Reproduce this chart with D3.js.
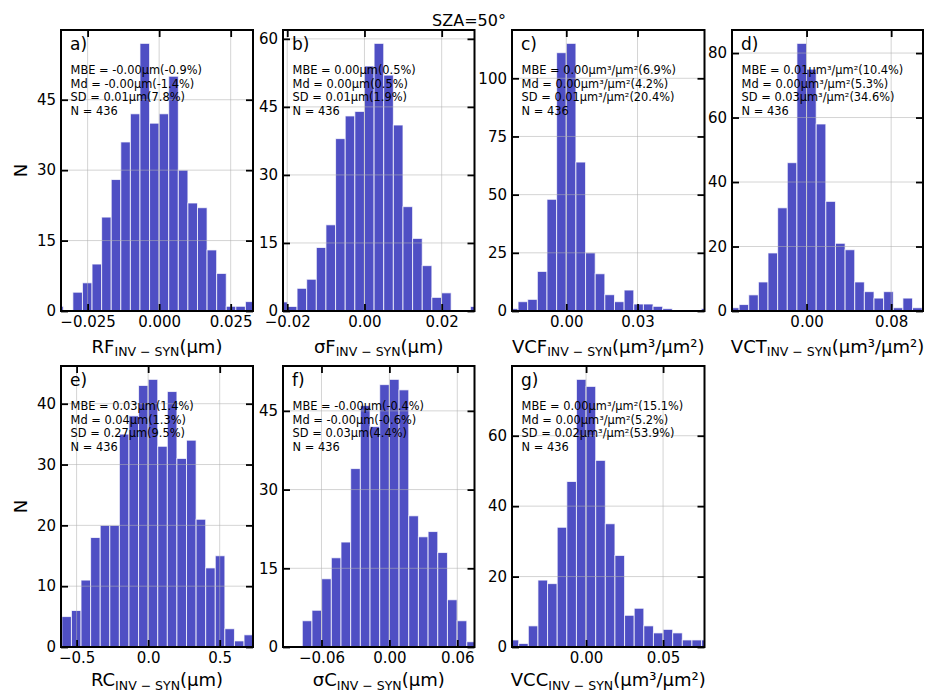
<!DOCTYPE html>
<html>
<head>
<meta charset="utf-8">
<script src="https://cdn.jsdelivr.net/npm/d3@7"></script>
<style>
  body { margin: 0; background: #fff; }
  text { font-family: "DejaVu Sans", sans-serif; fill: #000; }
</style>
</head>
<body>
<svg id="fig" width="928" height="694"></svg>
<script>
// Histograms of inversion minus synthetic differences, SZA = 50°
const panelTags = ["a)", "b)", "c)", "d)", "e)", "f)", "g)"];
const varNames  = ["RF", "σF", "VCF", "VCT", "RC", "σC", "VCC"];
const varUnits  = ["μm", "μm", "μm³/μm²", "μm³/μm²", "μm", "μm", "μm³/μm²"];

// bin width and index of the first bin (bin k spans [k*w, (k+1)*w])
const binWidths = [0.00335, 0.002494, 0.00406, 0.00911, 0.067, 0.00855, 0.00625];
const firstBin  = [-11, -9, -6, -8, -9, -9, -8];

const countsRF  = [1, 0, 4, 6, 10, 20, 28, 36, 42, 57, 40, 42, 50, 30, 23, 22, 13, 8, 1, 1, 2];
const countsSF  = [2, 1, 5, 7, 14, 19, 38, 43, 44, 54, 59, 52, 41, 23, 16, 10, 3, 4, 0, 0, 1];
const countsVCF = [1, 4, 5, 17, 48, 111, 115, 64, 25, 16, 7, 4, 9, 3, 3, 2, 1, 0, 0, 0, 1];
const countsVCT = [1, 2, 5, 9, 18, 32, 46, 83, 75, 58, 34, 21, 19, 9, 6, 4, 6, 1, 4, 1];
const countsRC  = [5, 6, 11, 18, 20, 20, 35, 38, 43, 44, 33, 42, 31, 34, 21, 13, 15, 3, 1, 2];
const countsSC  = [5, 7, 13, 17, 20, 34, 46, 42, 50, 51, 49, 25, 21, 22, 18, 9, 5, 1];
const countsVCC = [2, 1, 6, 19, 18, 34, 47, 76, 74, 53, 35, 26, 9, 11, 6, 4, 5, 4, 2, 2, 2];
const allCounts = [countsRF, countsSF, countsVCF, countsVCT, countsRC, countsSC, countsVCC];

const xLimits = [
  [-0.0343, 0.0328], [-0.0211, 0.0285], [-0.02285, 0.0582], [-0.0705, 0.1101],
  [-0.609, 0.7326], [-0.094, 0.0752], [-0.0481, 0.0769]
];
const xTickValues = [
  [-0.025, 0, 0.025], [-0.02, 0, 0.02], [0, 0.03], [0, 0.08],
  [-0.5, 0, 0.5], [-0.06, 0, 0.06], [0, 0.05]
];
const xTickFormats = [".3f", ".2f", ".2f", ".2f", ".1f", ".2f", ".2f"];
const yTickValues = [
  [0, 15, 30, 45], [0, 15, 30, 45, 60], [0, 25, 50, 75, 100], [0, 20, 40, 60, 80],
  [0, 10, 20, 30, 40], [0, 15, 30, 45], [0, 20, 40, 60]
];

const mbeText = ["-0.00μm(-0.9%)", "0.00μm(0.5%)", "0.00μm³/μm²(6.9%)", "0.01μm³/μm²(10.4%)",
                 "0.03μm(1.4%)", "-0.00μm(-0.4%)", "0.00μm³/μm²(15.1%)"];
const mdText  = ["-0.00μm(-1.4%)", "0.00μm(0.5%)", "0.00μm³/μm²(4.2%)", "0.00μm³/μm²(5.3%)",
                 "0.04μm(1.3%)", "-0.00μm(-0.6%)", "0.00μm³/μm²(5.2%)"];
const sdText  = ["0.01μm(7.8%)", "0.01μm(1.9%)", "0.01μm³/μm²(20.4%)", "0.03μm³/μm²(34.6%)",
                 "0.27μm(9.5%)", "0.03μm(4.4%)", "0.02μm³/μm²(53.9%)"];
const sampleSize = [436, 436, 436, 436, 436, 436, 436];

// grid layout of the axes frames
const colSpans = [[61, 253], [283, 474.5], [512, 704.5], [732, 923]];
const rowSpans = [[30, 311], [366, 647]];
const labelBaselines = [352.5, 686];
const cells = [[0, 0], [0, 1], [0, 2], [0, 3], [1, 0], [1, 1], [1, 2]];

const svg = d3.select("#fig");
const barFill = "#4f4fc4";
const tickLen = 7;

svg.append("text")
  .attr("x", 469).attr("y", 26)
  .attr("text-anchor", "middle")
  .style("font-size", "16px")
  .text("SZA=50°");

rowSpans.forEach(([t, b]) => {
  svg.append("text")
    .attr("transform", `translate(27,${(t + b) / 2}) rotate(-90)`)
    .attr("text-anchor", "middle")
    .style("font-size", "18px")
    .text("N");
});

allCounts.forEach((counts, i) => {
  const [r, c] = cells[i];
  const [x0, x1] = colSpans[c];
  const [y0, y1] = rowSpans[r];
  const w = binWidths[i];

  const x = d3.scaleLinear().domain(xLimits[i]).range([x0, x1]);
  const y = d3.scaleLinear().domain([0, d3.max(counts) * 1.05]).range([y1, y0]);

  const g = svg.append("g");
  const clipId = "clip" + i;
  g.append("clipPath").attr("id", clipId)
    .append("rect").attr("x", x0).attr("y", y0).attr("width", x1 - x0).attr("height", y1 - y0);

  const bins = counts.map((n, k) => ({ lo: (firstBin[i] + k) * w, hi: (firstBin[i] + k + 1) * w, n }));

  g.append("g").attr("clip-path", `url(#${clipId})`)
    .selectAll("rect").data(bins.filter(d => d.n > 0)).join("rect")
    .attr("x", d => x(d.lo))
    .attr("width", d => x(d.hi) - x(d.lo))
    .attr("y", d => y(d.n))
    .attr("height", d => y(0) - y(d.n))
    .attr("fill", barFill)
    .attr("stroke", "#ffffff")
    .attr("stroke-opacity", 0.75)
    .attr("stroke-width", 1);

  // grid lines drawn over the bars
  const grid = g.append("g").attr("stroke", "#b0b0b0").attr("stroke-opacity", 0.55).attr("stroke-width", 1);
  xTickValues[i].forEach(v => grid.append("line")
    .attr("x1", x(v)).attr("x2", x(v)).attr("y1", y0).attr("y2", y1));
  yTickValues[i].forEach(v => grid.append("line")
    .attr("x1", x0).attr("x2", x1).attr("y1", y(v)).attr("y2", y(v)));

  // axes with inward ticks on all four sides
  const fmt = d3.format(xTickFormats[i]);
  const bottom = g.append("g").attr("transform", `translate(0,${y1})`)
    .call(d3.axisBottom(x).tickValues(xTickValues[i]).tickFormat(fmt).tickSizeInner(-tickLen).tickSizeOuter(0).tickPadding(5));
  const top = g.append("g").attr("transform", `translate(0,${y0})`)
    .call(d3.axisTop(x).tickValues(xTickValues[i]).tickFormat("").tickSizeInner(-tickLen).tickSizeOuter(0));
  const left = g.append("g").attr("transform", `translate(${x0},0)`)
    .call(d3.axisLeft(y).tickValues(yTickValues[i]).tickFormat(d3.format("d")).tickSizeInner(-tickLen).tickSizeOuter(0).tickPadding(5));
  const right = g.append("g").attr("transform", `translate(${x1},0)`)
    .call(d3.axisRight(y).tickValues(yTickValues[i]).tickFormat("").tickSizeInner(-tickLen).tickSizeOuter(0));

  [bottom, top, left, right].forEach(a => {
    a.select(".domain").remove();
    a.selectAll(".tick line").attr("stroke", "#000").attr("stroke-width", 1.8);
    a.selectAll(".tick text").style("font-size", "15px").attr("font-family", null).style("fill", "#000");
  });
  bottom.selectAll(".tick text").attr("dy", "0.75em");

  g.append("rect")
    .attr("x", x0).attr("y", y0).attr("width", x1 - x0).attr("height", y1 - y0)
    .attr("fill", "none").attr("stroke", "#000").attr("stroke-width", 2);

  // panel tag and statistics
  g.append("text").attr("x", x0 + 9).attr("y", y0 + 19.5)
    .style("font-size", "17px").text(panelTags[i]);

  const lines = [
    "MBE = " + mbeText[i],
    "Md = " + mdText[i],
    "SD = " + sdText[i],
    "N = " + sampleSize[i]
  ];
  g.append("g").selectAll("text").data(lines).join("text")
    .attr("x", x0 + 9.6)
    .attr("y", (d, k) => y0 + 44 + k * 13.7)
    .style("font-size", "11.4px")
    .text(d => d);

  // axis label with subscript
  const lab = g.append("text")
    .attr("x", (x0 + x1) / 2)
    .attr("y", labelBaselines[r])
    .attr("text-anchor", "middle")
    .style("font-size", "18px");
  lab.append("tspan").text(varNames[i]);
  lab.append("tspan").attr("dy", 3.5).style("font-size", "12.5px").text("INV − SYN");
  lab.append("tspan").attr("dy", -3.5).text("(" + varUnits[i] + ")");
});
</script>
</body>
</html>
